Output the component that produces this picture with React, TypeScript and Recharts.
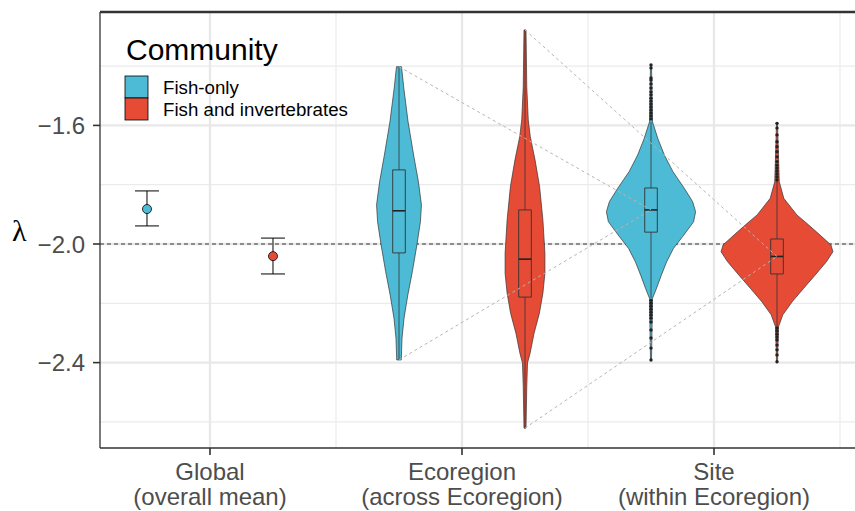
import React from 'react';
import { ComposedChart, Scatter, XAxis, YAxis, CartesianGrid, ErrorBar, ReferenceLine } from 'recharts';

const categories = ['Global', 'Ecoregion', 'Site'];
const categoryNotes = ['(overall mean)', '(across Ecoregion)', '(within Ecoregion)'];
const communities = ['Fish-only', 'Fish and invertebrates'];
const communityColors = ['#4DBBD5', '#E64B35'];
const dodge = 0.25;

const xDomain = [0.5635, 3.5595];
const yDomain = [-2.688, -1.2175];
const yTicks = [-2.4, -2.0, -1.6];
const xMajor = [1, 2, 3];
const xMinor = [1.5, 2.5, 3.5];
const yMajor = [-2.4, -2.0, -1.6];
const yMinor = [-2.6, -2.2, -1.8, -1.4];
const refLevel = -2.0;

// Global: mean with interval
const globalMean = [-1.882, -2.041];
const globalLower = [-1.939, -2.101];
const globalUpper = [-1.821, -1.98];

// violin outlines: lambda value and half width (x units), read top to bottom
const ecoFishY = [-1.402, -1.474, -1.588, -1.7, -1.79, -1.868, -1.925, -2.003, -2.093, -2.172, -2.25, -2.317, -2.391];
const ecoFishW = [0.01, 0.019, 0.036, 0.058, 0.077, 0.089, 0.085, 0.071, 0.053, 0.035, 0.02, 0.012, 0.009];
const ecoInvY = [-1.278, -1.47, -1.582, -1.638, -1.717, -1.807, -1.919, -2.031, -2.099, -2.166, -2.234, -2.301, -2.369, -2.401, -2.481, -2.621];
const ecoInvW = [0.004, 0.007, 0.013, 0.021, 0.04, 0.058, 0.071, 0.079, 0.079, 0.071, 0.057, 0.036, 0.02, 0.01, 0.007, 0.004];
const siteFishY = [-1.396, -1.588, -1.644, -1.7, -1.756, -1.812, -1.857, -1.891, -1.925, -1.97, -2.015, -2.06, -2.105, -2.149, -2.183, -2.391];
const siteFishW = [0.002, 0.006, 0.027, 0.053, 0.087, 0.132, 0.165, 0.177, 0.169, 0.13, 0.089, 0.062, 0.041, 0.022, 0.006, 0.002];
const siteInvY = [-1.593, -1.79, -1.846, -1.902, -1.936, -1.97, -2.003, -2.026, -2.06, -2.105, -2.149, -2.195, -2.239, -2.279, -2.397];
const siteInvW = [0.002, 0.009, 0.027, 0.079, 0.126, 0.171, 0.214, 0.222, 0.196, 0.151, 0.106, 0.06, 0.023, 0.006, 0.002];

// boxes: lower whisker, Q1, median, Q3, upper whisker
const ecoFishBox = [-2.391, -2.03, -1.888, -1.75, -1.402];
const ecoInvBox = [-2.621, -2.179, -2.051, -1.885, -1.278];
const siteFishBox = [-2.183, -1.96, -1.885, -1.811, -1.588];
const siteInvBox = [-2.279, -2.101, -2.042, -1.983, -1.79];
const boxHalf = 0.025;

// outliers at site level
const siteFishOut = [-1.396, -1.406, -1.44, -1.447, -1.46, -1.474, -1.487, -1.497, -1.508, -1.518, -1.528, -1.538, -1.548, -1.558, -1.568, -1.578,
  -2.19, -2.2, -2.21, -2.22, -2.23, -2.24, -2.25, -2.263, -2.29, -2.317, -2.351, -2.391];
const siteInvOut = [-1.593, -1.609, -1.632, -1.655, -1.672, -1.689, -1.706, -1.722, -1.734, -1.744, -1.754, -1.764, -1.774, -1.784,
  -2.283, -2.293, -2.304, -2.314, -2.324, -2.341, -2.357, -2.374, -2.397];

const violins = [
  { cx: 2 - dodge, ys: ecoFishY, ws: ecoFishW, box: ecoFishBox, out: [], c: 0 },
  { cx: 2 + dodge, ys: ecoInvY, ws: ecoInvW, box: ecoInvBox, out: [], c: 1 },
  { cx: 3 - dodge, ys: siteFishY, ws: siteFishW, box: siteFishBox, out: siteFishOut, c: 0 },
  { cx: 3 + dodge, ys: siteInvY, ws: siteInvW, box: siteInvBox, out: siteInvOut, c: 1 },
];

const connectors = [
  [{ x: 2 - dodge, y: ecoFishBox[4] }, { x: 3 - dodge, y: siteFishBox[2] }],
  [{ x: 2 - dodge, y: ecoFishBox[0] }, { x: 3 - dodge, y: siteFishBox[2] }],
  [{ x: 2 + dodge, y: ecoInvBox[4] }, { x: 3 + dodge, y: siteInvBox[2] }],
  [{ x: 2 + dodge, y: ecoInvBox[0] }, { x: 3 + dodge, y: siteInvBox[2] }],
];

function outline(cx: number, ys: number[], ws: number[]) {
  const right = ys.map((y, i) => ({ x: cx + ws[i], y }));
  const left = ys.map((y, i) => ({ x: cx - ws[i], y })).reverse();
  return [...right, ...left, right[0]];
}

function boxRect(cx: number, b: number[]) {
  return [
    { x: cx - boxHalf, y: b[3] }, { x: cx + boxHalf, y: b[3] },
    { x: cx + boxHalf, y: b[1] }, { x: cx - boxHalf, y: b[1] },
    { x: cx - boxHalf, y: b[3] },
  ];
}

const noDot = () => <g />;
const outDot = (p: any) => <circle cx={p.cx} cy={p.cy} r={1.7} fill="#222" />;

function scaleOf(axis: any, v: number, lo: number, len: number, dom: number[], flip: boolean) {
  const s = axis && axis.scale;
  if (typeof s === 'function') return s(v);
  if (s && typeof s.map === 'function') return s.map(v);
  const t = (v - dom[0]) / (dom[1] - dom[0]);
  return flip ? lo + len * (1 - t) : lo + len * t;
}

const gridX = (vals: number[]) => ({ xAxis, offset }: any) =>
  vals.map((v) => scaleOf(xAxis, v, offset.left, offset.width, xDomain, false));
const gridY = (vals: number[]) => ({ yAxis, offset }: any) =>
  vals.map((v) => scaleOf(yAxis, v, offset.top, offset.height, yDomain, true));

function CategoryTick({ x, y, payload }: any) {
  const i = xMajor.indexOf(payload.value);
  if (i < 0) return null;
  return (
    <text x={x} y={y} textAnchor="middle" fill="#4d4d4d" fontSize={24}>
      <tspan x={x} dy={17}>{categories[i]}</tspan>
      <tspan x={x} dy={25}>{categoryNotes[i]}</tspan>
    </text>
  );
}

const fmt = (v: number) => v.toFixed(1).replace('-', '\u2212');

export default function App() {
  return (
    <div style={{ position: 'absolute', left: 0, top: 0, width: 855, height: 511, background: '#fff', fontFamily: 'Liberation Sans, Arial, sans-serif' }}>
      <ComposedChart width={855} height={511} margin={{ top: 12, right: 0, bottom: 0, left: 0 }}>
        <CartesianGrid stroke="#ebebeb" strokeWidth={1.2}
          verticalCoordinatesGenerator={gridX(xMinor)} horizontalCoordinatesGenerator={gridY(yMinor)} />
        <CartesianGrid stroke="#e8e8e8" strokeWidth={2.3}
          verticalCoordinatesGenerator={gridX(xMajor)} horizontalCoordinatesGenerator={gridY(yMajor)} />
        <XAxis dataKey="x" type="number" domain={xDomain} allowDataOverflow ticks={xMajor} interval={0}
          height={63} tick={<CategoryTick />} tickSize={7} tickMargin={8}
          axisLine={{ stroke: '#333', strokeWidth: 1.3 }} tickLine={{ stroke: '#333', strokeWidth: 1.6 }} />
        <YAxis dataKey="y" type="number" domain={yDomain} allowDataOverflow ticks={yTicks} interval={0}
          width={100} tickSize={7} tickMargin={8} tickFormatter={fmt}
          tick={{ fill: '#4d4d4d', fontSize: 24 }}
          axisLine={{ stroke: '#333', strokeWidth: 1.3 }} tickLine={{ stroke: '#333', strokeWidth: 1.6 }}
          label={{ value: '\u03bb', position: 'insideLeft', offset: 12, fontSize: 30, fill: '#000', fontFamily: 'Liberation Serif, serif' }} />
        <ReferenceLine y={yDomain[1]} stroke="#333" strokeWidth={2.6} />

        <Scatter data={[{ x: xDomain[0], y: refLevel }, { x: xDomain[1], y: refLevel }]} shape={noDot}
          line={{ stroke: '#333', strokeWidth: 1, strokeDasharray: '4 3' }} isAnimationActive={false} />

        {violins.map((v, k) => (
          <Scatter key={'v' + k} data={outline(v.cx, v.ys, v.ws)} shape={noDot}
            line={{ fill: communityColors[v.c], stroke: '#333', strokeWidth: 0.7 }} isAnimationActive={false} />
        ))}
        {violins.map((v, k) => (
          <Scatter key={'wt' + k} data={[{ x: v.cx, y: v.box[4] }, { x: v.cx, y: v.box[3] }]} shape={noDot}
            line={{ stroke: '#333', strokeWidth: 0.8 }} isAnimationActive={false} />
        ))}
        {violins.map((v, k) => (
          <Scatter key={'wb' + k} data={[{ x: v.cx, y: v.box[1] }, { x: v.cx, y: v.box[0] }]} shape={noDot}
            line={{ stroke: '#333', strokeWidth: 0.8 }} isAnimationActive={false} />
        ))}
        {violins.map((v, k) => (
          <Scatter key={'b' + k} data={boxRect(v.cx, v.box)} shape={noDot}
            line={{ fill: 'none', stroke: '#333', strokeWidth: 0.9 }} isAnimationActive={false} />
        ))}
        {violins.map((v, k) => (
          <Scatter key={'m' + k} data={[{ x: v.cx - boxHalf, y: v.box[2] }, { x: v.cx + boxHalf, y: v.box[2] }]} shape={noDot}
            line={{ stroke: '#222', strokeWidth: 1.6 }} isAnimationActive={false} />
        ))}
        {violins.map((v, k) => (
          <Scatter key={'o' + k} data={v.out.map((y) => ({ x: v.cx, y }))} shape={outDot} isAnimationActive={false} />
        ))}

        {connectors.map((seg, k) => (
          <Scatter key={'c' + k} data={seg} shape={noDot}
            line={{ stroke: '#b5b5b5', strokeWidth: 1, strokeDasharray: '3 3' }} isAnimationActive={false} />
        ))}

        {communities.map((name, k) => (
          <Scatter key={'g' + k} name={name}
            data={[{ x: 1 + (k === 0 ? -dodge : dodge), y: globalMean[k], err: [globalMean[k] - globalLower[k], globalUpper[k] - globalMean[k]] }]}
            fill={communityColors[k]} stroke="#000" strokeWidth={0.8} isAnimationActive={false}>
            <ErrorBar dataKey="err" direction="y" width={12} stroke="#000" strokeWidth={1} />
          </Scatter>
        ))}
      </ComposedChart>

      <svg width={855} height={511} style={{ position: 'absolute', left: 0, top: 0, pointerEvents: 'none' }}>
        <text x={126} y={60} fontSize={30} fill="#000">Community</text>
        {communities.map((name, k) => (
          <g key={name}>
            <rect x={125} y={76 + k * 22} width={23} height={22} fill={communityColors[k]} stroke="#000" strokeWidth={0.8} />
            <text x={163} y={94 + k * 21.5} fontSize={18.7} fill="#000">{name}</text>
          </g>
        ))}
      </svg>
    </div>
  );
}
